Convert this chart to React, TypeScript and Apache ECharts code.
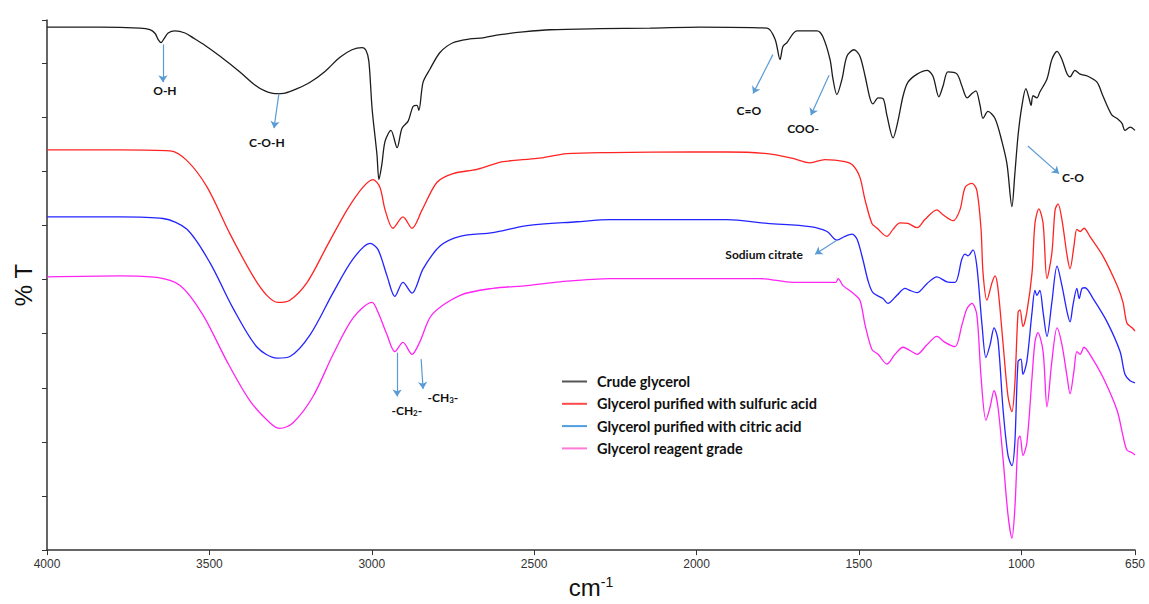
import React, { useEffect, useRef } from "react";
import * as echarts from "echarts";

// ---- Data (wavenumber cm-1, relative %T) ----
const xTickValues = [4000, 3500, 3000, 2500, 2000, 1500, 1000, 650];

const seriesNames = [
  "Crude glycerol",
  "Glycerol purified with sulfuric acid",
  "Glycerol purified with citric acid",
  "Glycerol reagent grade",
];

const crudeWn = [4000, 3837, 3714, 3683, 3667, 3658, 3649, 3640, 3627, 3606, 3575, 3550, 3513, 3467, 3406, 3360, 3329, 3298, 3267, 3230, 3190, 3144, 3098, 3061, 3030, 3018, 3009, 2999, 2984, 2978, 2969, 2959, 2941, 2922, 2907, 2888, 2873, 2861, 2855, 2842, 2821, 2790, 2750, 2698, 2658, 2605, 2534, 2451, 2297, 2143, 1989, 1783, 1758, 1743, 1734, 1722, 1691, 1629, 1611, 1589, 1580, 1568, 1552, 1537, 1515, 1497, 1481, 1466, 1457, 1441, 1426, 1414, 1395, 1380, 1364, 1349, 1321, 1290, 1272, 1254, 1241, 1226, 1198, 1183, 1167, 1152, 1140, 1127, 1118, 1103, 1081, 1060, 1044, 1029, 1020, 1010, 998, 986, 976, 970, 964, 952, 943, 921, 906, 890, 875, 859, 850, 835, 819, 795, 767, 749, 721, 705, 690, 681, 665, 650];
const crudeT = [96.7, 96.7, 96.5, 96.2, 95.5, 94.4, 93.8, 94.5, 95.6, 96.0, 95.6, 94.7, 93.3, 91.3, 88.4, 86.0, 84.9, 84.4, 84.5, 85.3, 86.5, 88.5, 91.1, 92.5, 92.9, 92.4, 90.4, 81.6, 73.1, 68.5, 71.3, 75.6, 77.6, 74.4, 78.0, 79.3, 82.0, 82.2, 81.3, 86.5, 88.9, 92.0, 93.8, 94.5, 94.7, 95.3, 95.8, 96.2, 96.4, 96.5, 96.7, 96.5, 94.4, 90.7, 93.1, 93.8, 96.0, 96.0, 94.9, 90.7, 87.1, 84.2, 87.1, 91.3, 92.5, 91.3, 87.6, 83.5, 82.5, 83.6, 83.5, 80.4, 76.2, 79.3, 84.0, 86.5, 88.0, 88.7, 87.6, 83.8, 85.8, 88.4, 88.0, 85.8, 83.6, 84.4, 84.9, 82.2, 79.8, 81.1, 79.8, 75.6, 71.3, 63.5, 69.5, 76.7, 82.2, 85.3, 83.5, 82.2, 84.0, 83.6, 84.7, 87.1, 90.7, 92.2, 90.7, 88.0, 87.5, 88.7, 88.0, 87.6, 86.5, 84.0, 80.4, 79.8, 78.9, 77.6, 78.2, 77.6];

const sulfuricWn = [4000, 3775, 3621, 3569, 3507, 3437, 3366, 3323, 3289, 3252, 3199, 3138, 3076, 3027, 2996, 2975, 2959, 2935, 2904, 2876, 2845, 2799, 2750, 2676, 2596, 2491, 2399, 2267, 2011, 1906, 1783, 1703, 1651, 1605, 1543, 1518, 1497, 1481, 1460, 1444, 1414, 1395, 1374, 1349, 1321, 1297, 1260, 1241, 1210, 1189, 1173, 1152, 1137, 1124, 1118, 1106, 1090, 1081, 1072, 1056, 1041, 1029, 1020, 1010, 1004, 995, 983, 967, 958, 946, 933, 921, 906, 896, 887, 875, 859, 850, 838, 829, 819, 807, 789, 749, 705, 687, 675, 659, 650];
const sulfuricT = [74.0, 74.0, 73.8, 72.0, 67.1, 58.5, 50.7, 47.1, 45.8, 46.2, 49.5, 56.2, 62.9, 67.1, 68.5, 67.1, 62.9, 59.5, 61.6, 59.5, 62.9, 68.0, 69.6, 70.4, 71.8, 72.4, 73.3, 73.5, 73.6, 73.6, 73.3, 72.4, 71.6, 72.2, 71.8, 71.1, 68.9, 64.7, 60.4, 59.5, 58.0, 59.3, 60.5, 60.4, 59.6, 61.1, 62.9, 62.0, 60.9, 62.9, 67.1, 67.8, 66.5, 59.3, 51.3, 46.2, 49.5, 50.7, 48.4, 38.0, 28.4, 25.6, 30.7, 44.0, 44.4, 41.3, 44.0, 51.3, 60.4, 63.1, 60.4, 50.2, 54.9, 62.9, 64.0, 61.1, 54.4, 52.0, 56.2, 59.3, 58.9, 59.5, 58.0, 54.4, 48.9, 45.8, 42.0, 41.1, 40.5];

const citricWn = [4000, 3775, 3643, 3569, 3498, 3427, 3353, 3292, 3252, 3190, 3119, 3058, 3005, 2981, 2953, 2929, 2904, 2876, 2842, 2790, 2728, 2627, 2522, 2368, 2267, 2113, 1906, 1783, 1651, 1598, 1568, 1543, 1521, 1506, 1487, 1472, 1457, 1426, 1411, 1383, 1358, 1343, 1321, 1290, 1260, 1229, 1204, 1183, 1173, 1164, 1149, 1137, 1121, 1109, 1096, 1084, 1072, 1056, 1041, 1029, 1020, 1010, 1001, 995, 983, 967, 958, 952, 943, 933, 921, 906, 890, 875, 859, 850, 841, 829, 822, 813, 804, 779, 736, 696, 681, 665, 650];
const citricT = [61.6, 61.6, 61.3, 59.3, 53.1, 44.7, 37.5, 35.5, 35.8, 39.8, 47.6, 53.8, 56.7, 55.6, 50.7, 46.9, 49.5, 47.5, 52.0, 56.2, 58.0, 58.7, 60.0, 60.7, 61.1, 61.1, 61.1, 60.4, 59.8, 58.9, 57.3, 58.0, 58.4, 57.5, 53.5, 49.8, 47.6, 46.5, 45.6, 47.1, 48.4, 48.0, 47.6, 49.3, 50.5, 49.6, 49.5, 53.8, 54.7, 54.4, 55.5, 52.5, 41.6, 35.6, 38.0, 41.1, 38.9, 25.8, 17.5, 15.6, 19.8, 34.9, 35.3, 32.5, 34.9, 44.0, 48.0, 47.1, 48.0, 44.0, 39.5, 45.8, 52.5, 48.9, 44.0, 42.2, 45.3, 48.4, 46.5, 48.4, 48.5, 46.5, 42.2, 36.7, 32.5, 31.3, 30.9];

const reagentWn = [4000, 3775, 3661, 3590, 3520, 3446, 3375, 3313, 3283, 3243, 3181, 3119, 3058, 2999, 2981, 2953, 2929, 2904, 2876, 2852, 2815, 2728, 2627, 2522, 2420, 2267, 2011, 1805, 1703, 1598, 1571, 1564, 1549, 1518, 1497, 1481, 1460, 1441, 1414, 1389, 1364, 1343, 1321, 1290, 1260, 1235, 1204, 1183, 1167, 1152, 1137, 1124, 1109, 1096, 1084, 1072, 1056, 1041, 1029, 1020, 1010, 1004, 995, 983, 967, 958, 949, 933, 921, 906, 890, 875, 859, 850, 838, 829, 819, 807, 789, 749, 705, 687, 675, 659, 650];
const reagentT = [50.5, 50.7, 50.4, 48.9, 43.5, 34.9, 27.6, 23.5, 22.5, 23.5, 28.4, 36.2, 42.9, 45.8, 44.0, 39.8, 36.7, 38.4, 36.2, 38.5, 43.5, 47.1, 48.4, 48.9, 49.6, 50.2, 50.2, 50.2, 49.5, 49.5, 49.5, 50.2, 48.9, 47.5, 46.2, 41.6, 37.1, 36.2, 34.4, 36.2, 37.5, 36.9, 36.2, 38.0, 39.5, 38.4, 37.6, 41.6, 44.7, 45.6, 43.5, 32.0, 24.0, 26.5, 29.5, 26.5, 16.7, 6.5, 2.2, 7.6, 20.4, 21.1, 17.5, 19.8, 32.0, 38.5, 40.2, 36.7, 26.5, 34.9, 41.1, 38.0, 32.0, 28.9, 33.1, 36.7, 36.2, 37.5, 36.2, 32.0, 25.8, 21.1, 18.5, 18.0, 17.6];

// Band annotations: arrow start/end and label position (cm-1, %T)
const bandLabels = ["O-H", "C-O-H", "C=O", "COO-", "C-O", "Sodium citrate", "-CH2-", "-CH3-"];
const arrowFrom = [[3643, 93.5], [3286, 84.4], [1765, 91.6], [1592, 87.8], [980, 74.7], [1568, 57.3], [2922, 36.5], [2848, 35.3]];
const arrowTo = [[3643, 86.5], [3301, 78.0], [1826, 84.4], [1648, 80.4], [884, 69.6], [1635, 54.7], [2922, 28.4], [2842, 29.8]];
const labelAt = [[3637, 84.9], [3323, 75.3], [1839, 81.3], [1672, 78.0], [841, 68.9], [1792, 54.7], [2892, 25.8], [2781, 28.2]];

const lineColors = ["#1c1c1c", "#ff2424", "#2424ff", "#ff24f4"];
const legendColors = ["#555555", "#ff4a4a", "#4f9ee0", "#ff7ad6"];

function zip(xs: number[], ys: number[]) {
  return xs.map((x, i) => [x, ys[i]]);
}

export default function App() {
  const ref = useRef<HTMLDivElement>(null);
  useEffect(() => {
    if (!ref.current) return;
    const chart = echarts.init(ref.current, undefined, { renderer: "svg" });
    const datasets = [
      zip(crudeWn, crudeT),
      zip(sulfuricWn, sulfuricT),
      zip(citricWn, citricT),
      zip(reagentWn, reagentT),
    ];
    const labelText = (s: string) =>
      s.replace(/CH(\d)/, (_m, d) => "CH{s|" + d + "}");
    const series: any[] = seriesNames.map((name, i) => ({
      name,
      type: "line",
      data: datasets[i],
      symbol: "none",
      smooth: 0.3,
      lineStyle: { color: lineColors[i], width: 1.3 },
      itemStyle: { color: lineColors[i] },
      silent: true,
      z: 4 - i,
    }));
    series[0].markLine = {
      silent: true,
      symbol: ["none", "arrow"],
      symbolSize: 7,
      label: { show: false },
      lineStyle: { color: "#5b9bd5", width: 1.2, type: "solid" },
      emphasis: { disabled: true },
      data: arrowFrom.map((f, i) => [{ coord: f }, { coord: arrowTo[i] }]),
    };
    series[0].markPoint = {
      silent: true,
      symbol: "rect",
      symbolSize: 1,
      itemStyle: { color: "rgba(0,0,0,0)" },
      label: {
        show: true,
        position: "inside",
        color: "#111",
        fontWeight: "bold",
        fontSize: 12,
        fontFamily: "Lato, 'Open Sans', sans-serif",
        formatter: (p: any) => labelText(p.name),
        rich: {
          s: { fontSize: 8, fontWeight: "bold", color: "#111", verticalAlign: "bottom", padding: [5, 0, 0, 0] },
        },
      },
      data: bandLabels.map((n, i) => ({ name: n, coord: labelAt[i] })),
    };

    chart.setOption({
      animation: false,
      backgroundColor: "#ffffff",
      grid: { left: 47, right: 14, top: 20, bottom: 45, containLabel: false },
      legend: {
        orient: "vertical",
        left: 562,
        top: 374,
        padding: 0,
        itemWidth: 25,
        itemHeight: 2,
        itemGap: 7.3,
        icon: "rect",
        selectedMode: false,
        textStyle: {
          fontFamily: "Lato, 'Open Sans', sans-serif",
          fontWeight: "bold",
          fontSize: 14.5,
          lineHeight: 14.5,
          color: "#111",
          padding: [0, 0, 0, 5],
        },
        data: seriesNames.map((n, i) => ({ name: n, itemStyle: { color: legendColors[i] } })),
      },
      xAxis: {
        type: "value",
        min: 650,
        max: 4000,
        inverse: true,
        name: "cm{sup|-1}",
        nameLocation: "middle",
        nameGap: 22,
        nameTextStyle: {
          fontSize: 24,
          color: "#111",
          fontFamily: "'Liberation Sans', Arial, sans-serif",
          rich: { sup: { fontSize: 14, color: "#111", verticalAlign: "top", padding: [0, 0, 10, 0] } },
        },
        axisLine: { show: true, lineStyle: { color: "#333", width: 1.5 } },
        axisTick: { show: true, length: 5, lineStyle: { color: "#333" }, customValues: xTickValues },
        axisLabel: {
          customValues: xTickValues,
          formatter: (v: number) => String(v),
          fontSize: 12,
          color: "#333",
          margin: 8,
          fontFamily: "'Liberation Sans Narrow', 'Liberation Sans', Arial, sans-serif",
        },
        splitLine: { show: false },
      },
      yAxis: {
        type: "value",
        min: 0,
        max: 98,
        interval: 10,
        name: "% T",
        nameLocation: "middle",
        nameRotate: 90,
        nameGap: 12,
        nameTextStyle: { fontSize: 24, color: "#111", fontFamily: "'Liberation Sans', Arial, sans-serif" },
        axisLine: { show: true, lineStyle: { color: "#333", width: 1.5 } },
        axisTick: { show: true, length: 5, lineStyle: { color: "#333" } },
        axisLabel: { show: false },
        splitLine: { show: false },
      },
      series,
    });
    return () => chart.dispose();
  }, []);
  return (
    <div
      ref={ref}
      style={{ position: "fixed", left: 0, top: 0, width: 1149, height: 604, background: "#fff" }}
    />
  );
}
